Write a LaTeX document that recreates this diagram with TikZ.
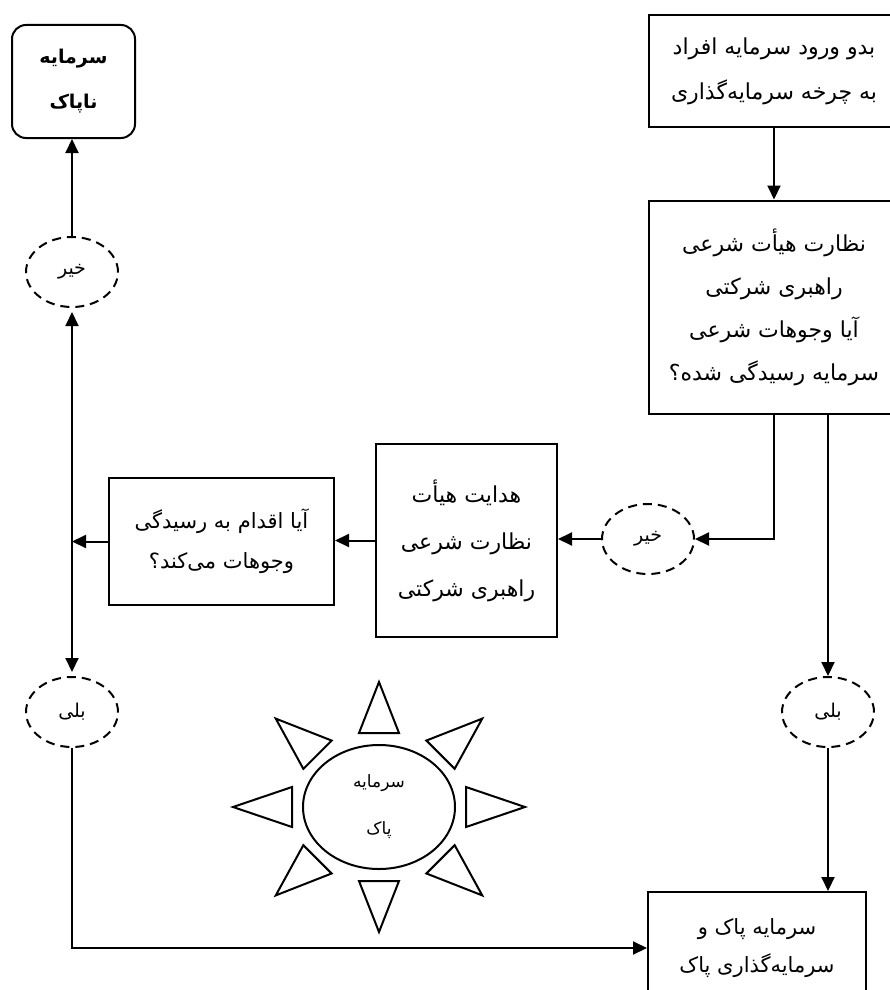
\documentclass[tikz,border=0pt]{standalone}
\usepackage{fontspec}
\newfontfamily\arabicfont[Script=Arabic]{DejaVu Sans}
\TeXXeTstate=1
\usetikzlibrary{arrows.meta,shapes.geometric,calc}
\newcommand{\fa}[1]{\beginR #1\endR}
\begin{document}
\begin{tikzpicture}[x=1pt,y=-1pt,line width=2pt,>={Triangle[length=14pt,width=13pt]}]
\tikzstyle{every node}+=[inner sep=0pt,align=center,font=\arabicfont\fontsize{22}{43}\selectfont]
\tikzstyle{stepbox}=[draw,rectangle]
\tikzstyle{answer}=[draw,ellipse,dash pattern=on 9pt off 6pt,minimum width=92pt,minimum height=70pt,font=\arabicfont\fontsize{19}{20}\selectfont]
\tikzstyle{ray}=[line join=miter]
\useasboundingbox (0,0) rectangle (889,990);
\node [stepbox,rounded corners=14pt,minimum width=123pt,minimum height=113pt,font=\arabicfont\bfseries\fontsize{19}{45}\selectfont] (impure) at (73.5,81.5) {\fa{سرمایه}\\\fa{ناپاک}};
\node [stepbox,minimum width=250pt,minimum height=112pt,font=\arabicfont\fontsize{22}{45}\selectfont] (entry) at (774,71) {\fa{بدو ورود سرمایه افراد}\\\fa{به چرخه سرمایه‌گذاری}};
\node [stepbox,minimum width=250pt,minimum height=213pt] (review) at (774,307) {\fa{نظارت هیأت شرعی}\\\fa{راهبری شرکتی}\\\fa{آیا وجوهات شرعی}\\\fa{سرمایه رسیدگی شده؟}};
\node [answer] (noB) at (648,539) {\fa{خیر}};
\node [stepbox,minimum width=181pt,minimum height=193pt,font=\arabicfont\fontsize{22}{47}\selectfont] (guide) at (466.5,540.5) {\fa{هدایت هیأت}\\\fa{نظارت شرعی}\\\fa{راهبری شرکتی}};
\node [stepbox,minimum width=225pt,minimum height=127pt,font=\arabicfont\fontsize{21}{40}\selectfont] (ask) at (221.5,541.5) {\fa{آیا اقدام به رسیدگی}\\\fa{وجوهات می‌کند؟}};
\node [answer] (noA) at (72,272) {\fa{خیر}};
\node [answer] (yesA) at (72,712) {\fa{بلی}};
\node [answer] (yesB) at (828,712) {\fa{بلی}};
\node [stepbox,minimum width=218pt,minimum height=112pt,font=\arabicfont\fontsize{21}{38}\selectfont] (pure) at (757,948) {\fa{سرمایه پاک و}\\\fa{سرمایه‌گذاری پاک}};
\node [draw,ellipse,minimum width=152pt,minimum height=124pt,font=\arabicfont\fontsize{17}{47}\selectfont] (sun) at (379,807) {\fa{سرمایه}\\\fa{پاک}};
\begin{scope}[shift={(sun.center)}]
\foreach \a in {0,45,...,315}
  \draw [ray] ($(\a:87 and 74)+(\a+90:20)$) -- (\a:146 and 125) -- ($(\a:87 and 74)-(\a+90:20)$) -- cycle;
\end{scope}
\coordinate (join) at (ask.west -| noA);
\draw [->] (entry) -- (review);
\draw [->] (review.south) |- (noB.east);
\draw [->] (review.south -| yesB) -- (yesB.north);
\draw [->] (noB.west) -- (noB.west -| guide.east);
\draw [->] (guide.west) -- (guide.west -| ask.east);
\draw [->] (ask.west) -- (join);
\draw [<->,shorten <=4pt,shorten >=4pt] (noA.south) -- (yesA.north);
\draw [->] (noA.north) -- (noA.north |- impure.south);
\draw [->] (yesA.south) |- (pure.west);
\draw [->] (yesB.south) -- (yesB.south |- pure.north);
\end{tikzpicture}
\end{document}
